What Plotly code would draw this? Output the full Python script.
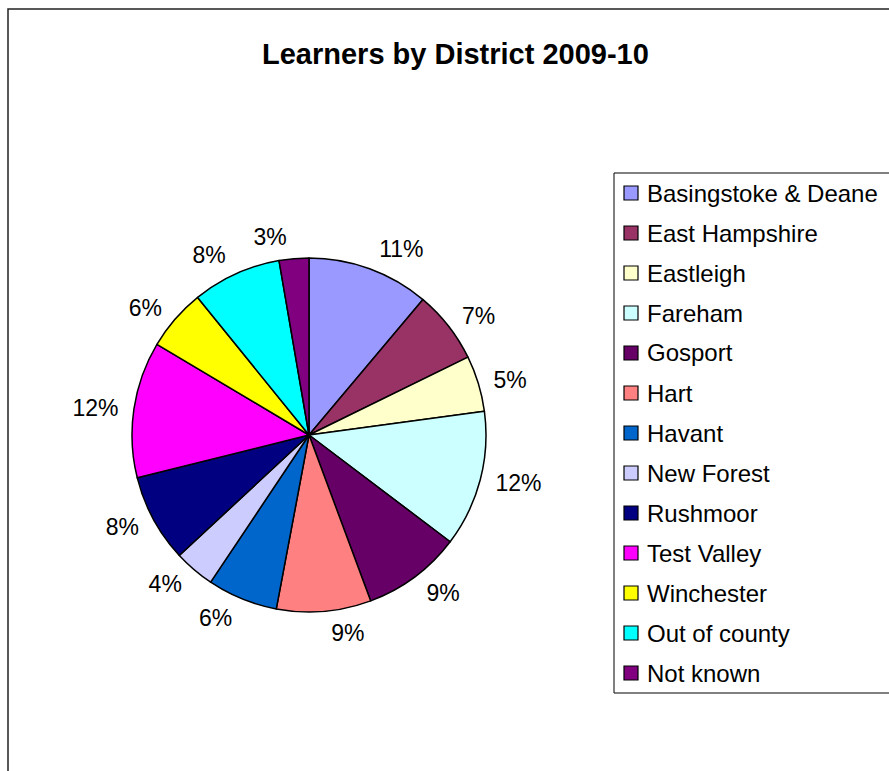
import plotly.graph_objects as go

W, H = 889, 771

districts = ["Basingstoke & Deane", "East Hampshire", "Eastleigh", "Fareham", "Gosport",
             "Hart", "Havant", "New Forest", "Rushmoor", "Test Valley", "Winchester",
             "Out of county", "Not known"]
shares = [11.1, 6.6, 5.1, 12.4, 9.0, 8.6, 6.4, 3.7, 8.0, 12.4, 5.6, 8.1, 2.7]
colors = ["#9999FF", "#993366", "#FFFFCC", "#CCFFFF", "#660066", "#FF8080", "#0066CC",
          "#CCCCFF", "#000080", "#FF00FF", "#FFFF00", "#00FFFF", "#800080"]
title_text = "Learners by District 2009-10"

FONT = "Liberation Sans, Arial, sans-serif"

def px(x):
    return x / W

def py(y):
    return 1 - y / H

cx, cy, r = 309, 435, 177
r_lab = 186  # radius of the invisible ring that carries the percentage labels
n = len(districts)

fig = go.Figure()
# two invisible, slightly larger pies that only carry the outside labels
# (the smallest slice gets its own so that its label is not pushed aside)
label_sets = [
    ["outside"] * (n - 1) + ["none"],
    ["none"] * (n - 1) + ["outside"],
]
for tp in label_sets:
    fig.add_trace(go.Pie(
        labels=districts,
        values=shares,
        sort=False,
        direction="clockwise",
        rotation=0,
        marker=dict(colors=["rgba(0,0,0,0)"] * n,
                    line=dict(color="rgba(0,0,0,0)", width=0)),
        textposition=tp,
        texttemplate="%{percent:.0%}",
        textfont=dict(family=FONT, size=23, color="#000000"),
        domain=dict(x=[px(cx - r_lab), px(cx + r_lab)], y=[py(cy + r_lab), py(cy - r_lab)]),
        showlegend=False,
        hoverinfo="skip",
    ))
# visible pie
fig.add_trace(go.Pie(
    labels=districts,
    values=shares,
    sort=False,
    direction="clockwise",
    rotation=0,
    marker=dict(colors=colors, line=dict(color="#000000", width=1.5)),
    textinfo="none",
    domain=dict(x=[px(cx - r), px(cx + r)], y=[py(cy + r), py(cy - r)]),
    showlegend=False,
    hoverinfo="label+percent",
))

shapes = []
annotations = []
# outer chart frame (extends beyond the visible page on the right and bottom)
shapes.append(dict(type="rect", xref="paper", yref="paper",
                   x0=px(8), x1=px(W + 20), y0=py(9), y1=py(H + 20),
                   line=dict(color="#222222", width=1.5), fillcolor="rgba(0,0,0,0)"))
# legend box
shapes.append(dict(type="rect", xref="paper", yref="paper",
                   x0=px(614), x1=px(W + 20), y0=py(173), y1=py(693),
                   line=dict(color="#000000", width=1), fillcolor="rgba(0,0,0,0)"))
for i, (name, col) in enumerate(zip(districts, colors)):
    yc = 193 + 40 * i
    shapes.append(dict(type="rect", xref="paper", yref="paper",
                       x0=px(624), x1=px(638), y0=py(yc - 7), y1=py(yc + 7),
                       line=dict(color="#000000", width=1.2), fillcolor=col))
    annotations.append(dict(text=name, xref="paper", yref="paper", x=px(645), y=py(yc),
                            xanchor="left", yanchor="middle", showarrow=False,
                            font=dict(family=FONT, size=24, color="#000000")))

annotations.append(dict(text="<b>" + title_text + "</b>", xref="paper", yref="paper",
                        x=px(455), y=py(54), xanchor="center", yanchor="middle",
                        showarrow=False, font=dict(family=FONT, size=29, color="#000000")))

fig.update_layout(
    width=W, height=H,
    margin=dict(l=0, r=0, t=0, b=0),
    paper_bgcolor="#FFFFFF",
    plot_bgcolor="#FFFFFF",
    shapes=shapes,
    annotations=annotations,
)

fig.write_html("out.html")
